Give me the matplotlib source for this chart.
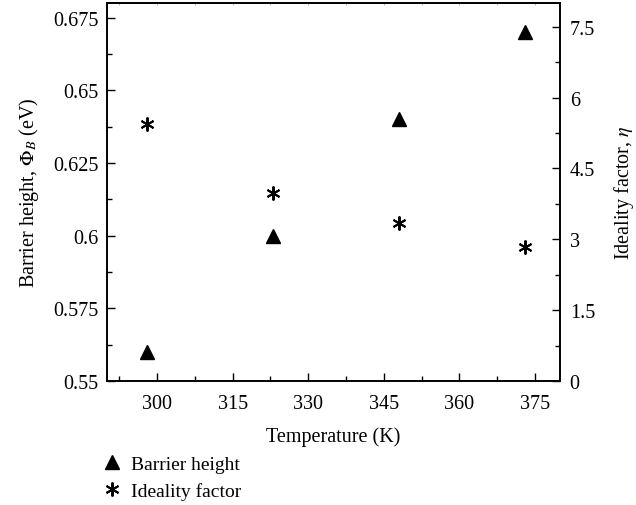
import matplotlib
matplotlib.use("Agg")
import matplotlib.pyplot as plt
from matplotlib.ticker import MultipleLocator, FixedLocator
from matplotlib.lines import Line2D

plt.rcParams['font.family'] = ['Liberation Serif', 'DejaVu Serif']
plt.rcParams['mathtext.fontset'] = 'stix'

temperature = [298, 323, 348, 373]
barrier_height = [0.56, 0.60, 0.64, 0.67]
ideality_factor = [5.45, 3.97, 3.35, 2.84]

x_ticks = [300, 315, 330, 345, 360, 375]
left_ticks = [0.55, 0.575, 0.6, 0.625, 0.65, 0.675]
left_labels = ['0.55', '0.575', '0.6', '0.625', '0.65', '0.675']
right_ticks = [0, 1.5, 3, 4.5, 6, 7.5]
right_labels = ['0', '1.5', '3', '4.5', '6', '7.5']

fig = plt.figure(figsize=(6.36, 5.06), dpi=100)
ax = fig.add_axes([0.168, 0.245, 0.7125, 0.747])
ax2 = ax.twinx()

ax.plot(temperature, barrier_height, linestyle='none', marker='^', color='black', markersize=9.5)
ax2.plot(temperature, ideality_factor, linestyle='none', marker=(6, 2, 0), color='black',
         markersize=10, markeredgewidth=1.4)
ax2.plot(temperature, ideality_factor, linestyle='none', marker='o', color='black', markersize=2.5)

ax.set_xlim(290, 380)
ax.set_ylim(0.55, 0.68)
ax2.set_ylim(0, 8)

fs = 14.5
ax.xaxis.set_major_locator(FixedLocator(x_ticks))
ax.xaxis.set_minor_locator(MultipleLocator(7.5))
ax.set_xticklabels([str(t) for t in x_ticks])
ax.yaxis.set_major_locator(FixedLocator(left_ticks))
ax.set_yticklabels(left_labels)
ax.yaxis.set_minor_locator(MultipleLocator(0.0125))
ax2.yaxis.set_major_locator(FixedLocator(right_ticks))
ax2.set_yticklabels(right_labels)
ax2.yaxis.set_minor_locator(MultipleLocator(0.75))

ax.tick_params(axis='x', which='major', direction='in', length=6, width=1, labelsize=fs, pad=9, top=False)
ax.tick_params(axis='x', which='minor', direction='in', length=3.5, width=1, top=False)
ax.tick_params(axis='y', which='major', direction='in', length=6, width=1, labelsize=fs, pad=6, right=False)
ax.tick_params(axis='y', which='minor', direction='in', length=3.5, width=1, right=False)
ax2.tick_params(axis='y', which='major', direction='in', length=6, width=1, labelsize=fs, pad=7)
ax2.tick_params(axis='y', which='minor', direction='in', length=3.5, width=1)

# faint top ticks
top = ax.secondary_xaxis('top')
top.xaxis.set_major_locator(FixedLocator(x_ticks))
top.xaxis.set_minor_locator(MultipleLocator(7.5))
top.tick_params(axis='x', which='both', direction='in', length=1.5, width=0.6,
                color='#aaaaaa', labeltop=False)
top.spines['top'].set_linewidth(1.2)

for a in (ax, ax2):
    for s in a.spines.values():
        s.set_linewidth(1.2)

ax.set_xlabel('Temperature (K)', fontsize=fs, labelpad=10)
ax.set_ylabel(r'Barrier height, $\Phi_B$ (eV)', fontsize=fs, labelpad=9)
ax2.set_ylabel(r'Ideality factor, $\eta$', fontsize=fs, labelpad=12)

handles = [
    Line2D([], [], linestyle='none', marker='^', color='black', markersize=9.5),
    Line2D([], [], linestyle='none', marker=(6, 2, 0), color='black', markersize=10, markeredgewidth=1.4),
]
fig.legend(handles, ['Barrier height', 'Ideality factor'], loc='upper left',
           bbox_to_anchor=(0.149, 0.114), frameon=False, fontsize=14,
           handlelength=1.0, handletextpad=0.45, labelspacing=0.5, borderaxespad=0)

fig.savefig('out.png', dpi=100)
